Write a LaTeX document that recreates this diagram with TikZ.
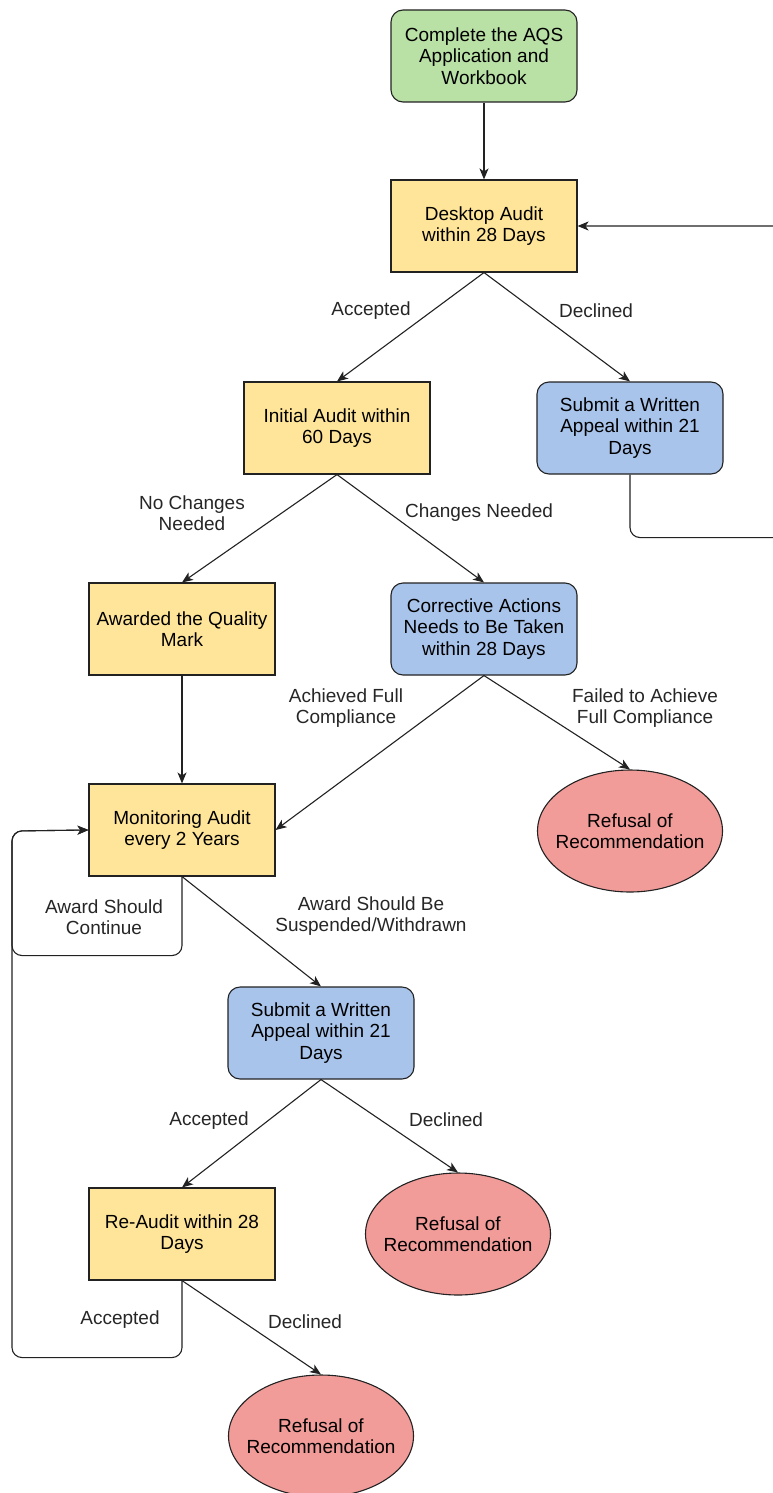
\documentclass[tikz,border=0pt]{standalone}
\usepackage{fontspec}
\setmainfont{Liberation Sans}
\usetikzlibrary{positioning, arrows.meta, shapes.geometric}
\definecolor{stepyellow}{HTML}{FFE599}
\definecolor{stepgreen}{HTML}{B9E0A5}
\definecolor{stepblue}{HTML}{A9C4EB}
\definecolor{stepred}{HTML}{F19C99}
\definecolor{edgegray}{HTML}{222222}

\begin{document}
\begin{tikzpicture}[x=1pt, y=-1pt,
  every node/.style={font=\fontsize{19}{21.5}\selectfont, align=center},
  auditbox/.style={draw=edgegray, line width=1.1pt, rectangle, fill=stepyellow,
    minimum width=186pt, minimum height=92pt, inner sep=2pt},
  startbox/.style={auditbox, fill=stepgreen, rounded corners=12pt},
  actionbox/.style={auditbox, fill=stepblue, rounded corners=12pt},
  refusal/.style={draw=edgegray, line width=1.1pt, ellipse, fill=stepred,
    minimum width=185pt, minimum height=122pt, inner xsep=-12pt, inner ysep=0pt},
  flow/.style={-{Stealth[length=11pt, width=9pt, inset=3pt]}, line width=1.1pt, edgegray},
  lbl/.style={text=black!85}]
\useasboundingbox (0,0) rectangle (773,1493);

% boxes
\node[startbox] (start) at (484,56) {Complete the AQS\\Application and\\Workbook};
\node[auditbox] (desk) at (484,226) {Desktop Audit\\within 28 Days};
\node[auditbox] (init) at (337,428) {Initial Audit within\\60 Days};
\node[actionbox] (app1) at (630,428) {Submit a Written\\Appeal within 21\\Days};
\node[auditbox] (award) at (182,629) {Awarded the Quality\\Mark};
\node[actionbox] (corr) at (484,629) {Corrective Actions\\Needs to Be Taken\\within 28 Days};
\node[refusal] (ref1) at (630,831) {Refusal of\\Recommendation};
\node[auditbox] (mon) at (182,830) {Monitoring Audit\\every 2 Years};
\node[actionbox] (app2) at (321,1033) {Submit a Written\\Appeal within 21\\Days};
\node[auditbox] (reaud) at (182,1234) {Re-Audit within 28\\Days};
\node[refusal] (ref2) at (458,1234) {Refusal of\\Recommendation};
\node[refusal] (ref3) at (321,1436) {Refusal of\\Recommendation};

% loop turning points
\coordinate (rloop) at (797,226);
\coordinate (lloop) at (12,831);

% connectors
\draw[flow] (start) -- (desk);
\draw[flow] (desk.south) -- (init.north);
\draw[flow] (desk.south) -- (app1.north);
\draw[flow, rounded corners=10pt] (app1.south) -- ++(0,63) -| (rloop) -- (desk.east);
\draw[flow] (init.south) -- (award.north);
\draw[flow] (init.south) -- (corr.north);
\draw[flow] (award) -- (mon);
\draw[flow] (corr.south) -- (mon.east);
\draw[flow] (corr.south) -- (ref1.north);
\draw[flow, rounded corners=10pt] (mon.south) -- ++(0,79) -| (lloop) -- (mon.west);
\draw[flow] (mon.south) -- (app2.north);
\draw[flow] (app2.south) -- (reaud.north);
\draw[flow] (app2.south) -- (ref2.north);
\draw[flow, rounded corners=10pt] (reaud.south) -- ++(0,77) -| (lloop) -- (mon.west);
\draw[flow] (reaud.south) -- (ref3.north);

% edge labels
\node[lbl] (l-acc1) at (371,311) {Accepted};
\node[lbl] (l-dec1) at (596,311) {Declined};
\node[lbl] (l-nochg) at (192,513) {No Changes\\Needed};
\node[lbl] (l-chg) at (479,513) {Changes Needed};
\node[lbl] (l-full) at (346,708) {Achieved Full\\Compliance};
\node[lbl] (l-fail) at (645,708) {Failed to Achieve\\Full Compliance};
\node[lbl] (l-cont) at (104,917) {Award Should\\Continue};
\node[lbl] (l-susp) at (371,916) {Award Should Be\\Suspended/Withdrawn};
\node[lbl] (l-acc2) at (209,1121) {Accepted};
\node[lbl] (l-dec2) at (446,1120) {Declined};
\node[lbl] (l-acc3) at (120,1320) {Accepted};
\node[lbl] (l-dec3) at (305,1322) {Declined};
\end{tikzpicture}
\end{document}
